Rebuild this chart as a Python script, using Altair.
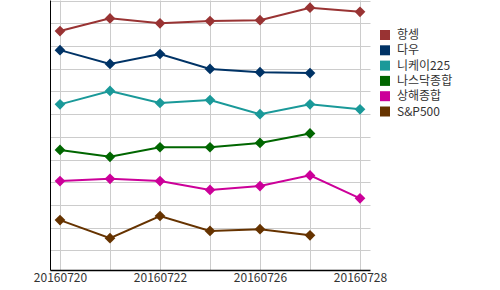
import altair as alt
import pandas as pd

dates = ["20160720", "20160721", "20160722", "20160725", "20160726", "20160727", "20160728"]
label_dates = ["20160720", "20160722", "20160726", "20160728"]
series_names = ["항셍", "다우", "니케이225", "나스닥종합", "상해종합", "S&P500"]
colors = ["#993333", "#003366", "#1A9999", "#006600", "#CC0099", "#663300"]

hangseng = [9.66, 10.22, 10.00, 10.10, 10.14, 10.69, 10.51]
dow = [8.82, 8.21, 8.65, 7.99, 7.85, 7.81, None]
nikkei = [6.43, 7.02, 6.49, 6.62, 6.00, 6.43, 6.21]
nasdaq = [4.42, 4.12, 4.54, 4.54, 4.73, 5.15, None]
shanghai = [3.05, 3.15, 3.05, 2.66, 2.83, 3.30, 2.29]
sp500 = [1.33, 0.53, 1.51, 0.85, 0.93, 0.66, None]

all_values = [hangseng, dow, nikkei, nasdaq, shanghai, sp500]
rows = []
for name, vals in zip(series_names, all_values):
    for d, v in zip(dates, vals):
        if v is not None:
            rows.append({"date": d, "series": name, "value": v})
df = pd.DataFrame(rows)

font = "Noto Sans CJK KR"
cond = " || ".join("datum.value == '%s'" % d for d in label_dates)

x = alt.X(
    "date:O",
    sort=dates,
    scale=alt.Scale(type="point", padding=0.2, domain=dates),
    axis=alt.Axis(
        title=None, labelAngle=0, ticks=False, grid=True, gridColor="#cccccc",
        domainColor="#000000", domainWidth=1.5, labelFontSize=12, labelColor="#333333",
        labelFont=font, labelPadding=2,
        labelExpr="(" + cond + ") ? datum.label : ''",
    ),
)
y = alt.Y(
    "value:Q",
    scale=alt.Scale(domain=[-0.87, 11.03], nice=False, zero=False),
    axis=alt.Axis(
        title=None, labels=False, ticks=False, grid=True, gridColor="#cccccc",
        values=list(range(0, 12)), domainColor="#000000", domainWidth=1,
    ),
)
color = alt.Color(
    "series:N",
    scale=alt.Scale(domain=series_names, range=colors),
    legend=alt.Legend(
        title=None, orient="none", legendX=329, legendY=29, symbolType="square",
        symbolSize=100, symbolStrokeWidth=0, labelFontSize=12, labelColor="#333333",
        labelFont=font, rowPadding=3.3, labelOffset=6,
    ),
)

base = alt.Chart(df).encode(x=x, y=y, color=color, detail="series:N")
lines = base.mark_line(strokeWidth=2)
points = base.mark_point(shape="diamond", filled=True, size=115, opacity=1)

chart = (
    alt.layer(lines, points)
    .properties(width=320, height=270, autosize=alt.AutoSizeParams(type="none"),
                padding={"left": 50, "top": 0, "right": 130, "bottom": 20})
    .configure_view(strokeWidth=0)
)

chart.save("out.html", embed_options={"renderer": "svg", "actions": False})
